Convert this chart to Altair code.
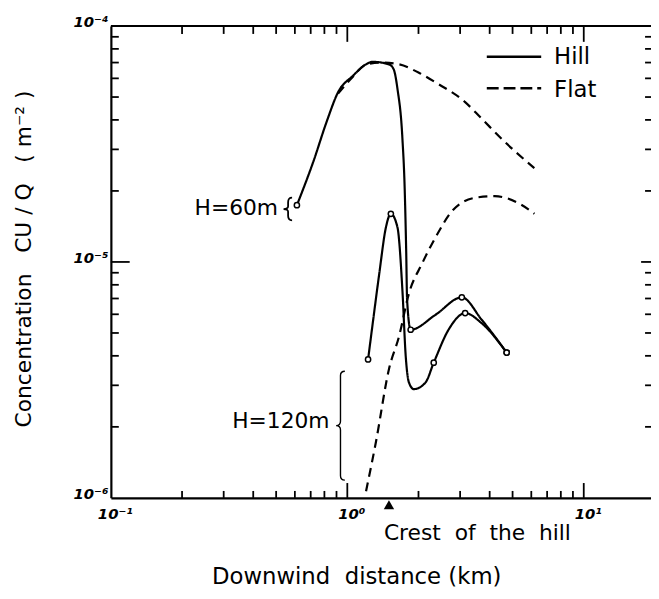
import json
import altair as alt
import pandas as pd

# ---------------- data ----------------
# x: downwind distance (km), y: concentration CU/Q (m^-2)
hill60_x = [0.612, 0.719, 0.817, 0.914, 1.056, 1.20, 1.28, 1.50, 1.57, 1.63, 1.71, 1.748,
            1.774, 1.79, 1.853, 2.36, 3.05, 3.70, 4.72]
hill60_y = [1.74e-5, 2.67e-5, 3.92e-5, 5.24e-5, 6.15e-5, 6.88e-5, 7.05e-5, 6.88e-5, 6.56e-5,
            5.41e-5, 3.34e-5, 2.06e-5, 1.12e-5, 6.9e-6, 5.16e-6, 5.97e-6, 7.08e-6, 5.69e-6, 4.13e-6]
hill60_marks = [0, 14, 16, 18]

hill120_x = [1.224, 1.281, 1.365, 1.456, 1.528, 1.63, 1.71, 1.766, 1.823, 1.912, 2.14, 2.32,
             2.68, 3.15, 3.70, 4.72]
hill120_y = [3.86e-6, 5.5e-6, 8.92e-6, 1.40e-5, 1.60e-5, 1.40e-5, 7.6e-6, 3.99e-6, 3.08e-6,
             2.89e-6, 3.08e-6, 3.74e-6, 5.16e-6, 6.07e-6, 5.5e-6, 4.13e-6]
hill120_marks = [0, 4, 11, 13, 15]

flat60_x = [0.914, 1.056, 1.20, 1.388, 1.655, 2.0, 2.36, 3.15, 3.70, 4.63, 6.18]
flat60_y = [5.17e-5, 6.1e-5, 6.86e-5, 7.0e-5, 6.88e-5, 6.35e-5, 5.77e-5, 4.76e-5, 4.05e-5,
            3.23e-5, 2.50e-5]

flat120_x = [1.20, 1.322, 1.50, 1.655, 1.823, 2.07, 2.36, 2.77, 3.47, 4.20, 5.43, 6.18]
flat120_y = [1.067e-6, 1.73e-6, 3.51e-6, 4.84e-6, 7.36e-6, 9.83e-6, 1.27e-5, 1.64e-5, 1.87e-5,
             1.90e-5, 1.75e-5, 1.60e-5]

crest_km = [1.5]

x_tick_values = [0.1, 1, 10]
x_tick_exps = [-1, 0, 1]
x_tick_labels = ["10⁻¹", "10⁰", "10¹"]
y_tick_values = [1e-6, 1e-5, 1e-4]
y_tick_exps = [-6, -5, -4]
y_tick_labels = ["10⁻⁶", "10⁻⁵", "10⁻⁴"]
x_major_ticks = [1, 10]
x_minor_ticks = [0.2, 0.3, 0.4, 0.5, 0.6, 0.7, 0.8, 0.9, 2, 3, 4, 5, 6, 7, 8, 9]
y_major_ticks = [1e-5]
y_minor_ticks = [2e-6, 3e-6, 4e-6, 5e-6, 6e-6, 7e-6, 8e-6, 9e-6,
                 2e-5, 3e-5, 4e-5, 5e-5, 6e-5, 7e-5, 8e-5, 9e-5]

# ---------------- build table ----------------
rows = []
for name, style, xs, ys, mk in [
    ("H60 hill", "Hill", hill60_x, hill60_y, hill60_marks),
    ("H120 hill", "Hill", hill120_x, hill120_y, hill120_marks),
    ("H60 flat", "Flat", flat60_x, flat60_y, []),
    ("H120 flat", "Flat", flat120_x, flat120_y, []),
]:
    for i, (xv, yv) in enumerate(zip(xs, ys)):
        rows.append(dict(series=name, style=style, x=xv, y=yv, order=i, marker=(i in mk)))
df = pd.DataFrame(rows)

W, H = 546, 477
FONT = "DejaVu Sans"
NB = "\u00a0"

xscale = alt.Scale(type="log", domain=[0.1, 19.25], nice=False)
yscale = alt.Scale(type="log", domain=[1e-6, 1e-4], nice=False)


def label_expr(exps, labels):
    return "%s[indexof(%s, round(log(datum.value)/LN10))]" % (
        json.dumps(labels, ensure_ascii=False), json.dumps(exps))


xaxis = alt.Axis(
    values=x_tick_values, labelExpr=label_expr(x_tick_exps, x_tick_labels),
    ticks=False, tickSize=0, grid=False, domain=True, domainColor="black", domainWidth=2.2,
    labelFont=FONT, labelFontStyle="italic", labelFontWeight="bold", labelFontSize=15,
    labelColor="black", labelPadding=9, labelFlush=False, labelOverlap=False, labelOffset=4,
    title="Downwind" + NB + " distance (km)", titleFont=FONT, titleFontSize=23,
    titleFontWeight="normal", titleColor="black", titleX=248, titleY=80,
    titleAlign="center", titleBaseline="middle",
)
yaxis = alt.Axis(
    values=y_tick_values, labelExpr=label_expr(y_tick_exps, y_tick_labels),
    ticks=False, tickSize=0, grid=False, domain=True, domainColor="black", domainWidth=2.2,
    labelFont=FONT, labelFontStyle="italic", labelFontWeight="bold", labelFontSize=15,
    labelColor="black", labelPadding=3, labelFlush=False, labelOverlap=False, labelOffset=-4,
    title="Concentration" + NB * 3 + "CU / Q" + NB * 3 + "( m⁻² )",
    titleFont=FONT, titleFontSize=22, titleFontWeight="normal", titleColor="black",
    titleX=-88, titleY=235, titleAngle=270, titleAlign="center", titleBaseline="middle",
)

X = lambda f: alt.X(f, scale=xscale, axis=xaxis)
Y = lambda f: alt.Y(f, scale=yscale, axis=yaxis)

lines = alt.Chart(df).mark_line(color="black", strokeWidth=2.2, interpolate="monotone").encode(
    x=X("x:Q"),
    y=Y("y:Q"),
    strokeDash=alt.StrokeDash("style:N", scale=alt.Scale(domain=["Hill", "Flat"],
                                                         range=[[1, 0], [9, 6]]), legend=None),
    detail="series:N",
    order="order:Q",
)

points = alt.Chart(df).transform_filter("datum.marker").mark_point(
    shape="circle", filled=True, fill="white", stroke="black", strokeWidth=1.5, size=28, opacity=1
).encode(x=X("x:Q"), y=Y("y:Q"))


def xticks(vals, length, top):
    d = pd.DataFrame({"v": vals})
    y0, y1 = (0, length) if top else (H, H - length)
    return alt.Chart(d).mark_rule(color="black", strokeWidth=1.8).encode(
        x=X("v:Q"), y=alt.value(y0), y2=alt.value(y1))


def yticks(vals, length, right):
    d = pd.DataFrame({"v": vals})
    x0, x1 = (W, W - length) if right else (0, length)
    return alt.Chart(d).mark_rule(color="black", strokeWidth=1.8).encode(
        y=Y("v:Q"), x=alt.value(x0), x2=alt.value(x1))


one = alt.Data(values=[{}])


def text(t, x, y, size, align="left"):
    return alt.Chart(one).mark_text(
        text=t, font=FONT, fontSize=size, align=align, baseline="middle", color="black",
    ).encode(x=alt.value(x), y=alt.value(y))


def rule(x, x2, y, dash=None, width=2.5):
    kw = dict(color="black", strokeWidth=width)
    if dash:
        kw["strokeDash"] = dash
    return alt.Chart(one).mark_rule(**kw).encode(x=alt.value(x), x2=alt.value(x2), y=alt.value(y))


big_brace = ("M 0.1 -1 Q 0.02 -1 0.02 -0.92 L 0.02 -0.08 Q 0.02 0 -0.06 0 "
             "Q 0.02 0 0.02 0.08 L 0.02 0.92 Q 0.02 1 0.1 1")
small_brace = ("M 0.45 -1 Q 0.1 -1 0.1 -0.6 L 0.1 -0.25 Q 0.1 0 -0.3 0 "
               "Q 0.1 0 0.1 0.25 L 0.1 0.6 Q 0.1 1 0.45 1")


def brace(path, x, y, size, width):
    return alt.Chart(one).mark_point(shape=path, size=size, filled=False, stroke="black",
                                     strokeWidth=width, opacity=1).encode(
        x=alt.value(x), y=alt.value(y))


crest = alt.Chart(pd.DataFrame({"x": crest_km})).mark_point(
    shape="triangle-up", filled=True, color="black", size=110, opacity=1
).encode(x=X("x:Q"), y=alt.value(H + 7))

layers = [
    lines, points,
    xticks(x_major_ticks, 15, False), xticks(x_minor_ticks, 7, False),
    xticks(x_major_ticks, 16, True), xticks(x_minor_ticks, 8, True),
    yticks(y_major_ticks, 19, False), yticks(y_minor_ticks, 8, False),
    yticks(y_major_ticks, 10, True), yticks(y_minor_ticks, 6, True),
    rule(0, W, 0, width=2.2),
    rule(380, 435, 31), rule(380, 435, 63, dash=[12, 5]),
    text("Hill", 448, 31, 23), text("Flat", 448, 65, 23),
    text("H=60m", 169, 184, 22, align="right"),
    brace(small_brace, 178, 185, 529, 1.8),
    text("H=120m", 221, 399, 22, align="right"),
    brace(big_brace, 231, 404, 12100, 1.4),
    crest,
    text("Crest" + NB + " of" + NB + " the" + NB + " hill", 276, 513, 22),
]

chart = alt.layer(*layers).properties(
    width=W, height=H, autosize="none",
    padding={"left": 104, "top": 15, "right": 0, "bottom": 98},
).configure_view(stroke=None)

chart.save("out.html", embed_options={"renderer": "svg", "actions": False})
